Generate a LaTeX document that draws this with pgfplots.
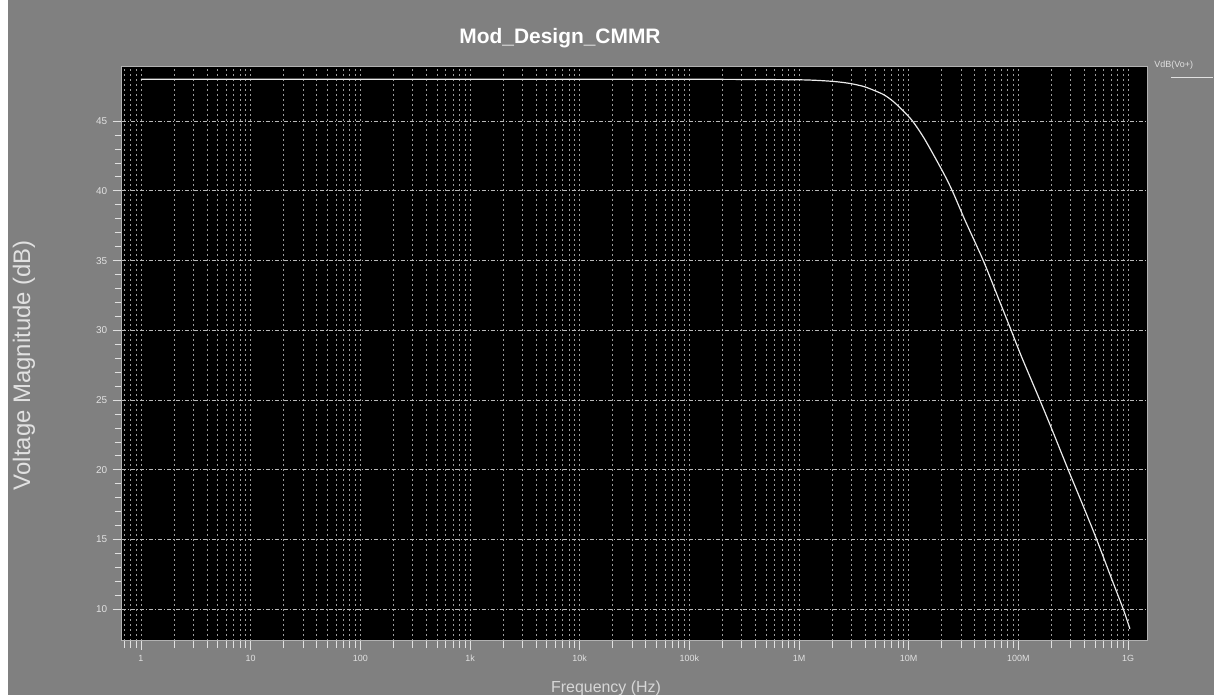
\documentclass[border=0pt]{standalone}
\usepackage{fontspec}
\setmainfont{Liberation Sans}
\usepackage{pgfplots}
\pgfplotsset{compat=1.18}
\definecolor{bg}{RGB}{128,128,128}
\definecolor{txt}{RGB}{225,225,225}
\definecolor{gridc}{RGB}{155,155,155}
\definecolor{gridmaj}{RGB}{185,185,185}

\begin{document}
\begin{tikzpicture}[x=1bp,y=1bp]
\fill[white] (0,0) rectangle (1214,695);
\fill[bg] (7.5,0) rectangle (1214,695);
\begin{axis}[
  at={(121.7bp,54.3bp)}, anchor=south west,
  width=1025.3bp, height=574bp, scale only axis,
  xmode=log, xmin=0.667, xmax=1.49e9, ymin=7.75, ymax=48.9,
  axis background/.style={fill=black},
  axis line style={draw=gray!60!white, line width=0.8bp},
  xtick={1,10,100,1000,1e4,1e5,1e6,1e7,1e8,1e9},
  xticklabels={1,10,100,1k,10k,100k,1M,10M,100M,1G},
  minor xtick={0.7,0.8,0.9,
    2,3,4,5,6,7,8,9,
    20,30,40,50,60,70,80,90,
    200,300,400,500,600,700,800,900,
    2e3,3e3,4e3,5e3,6e3,7e3,8e3,9e3,
    2e4,3e4,4e4,5e4,6e4,7e4,8e4,9e4,
    2e5,3e5,4e5,5e5,6e5,7e5,8e5,9e5,
    2e6,3e6,4e6,5e6,6e6,7e6,8e6,9e6,
    2e7,3e7,4e7,5e7,6e7,7e7,8e7,9e7,
    2e8,3e8,4e8,5e8,6e8,7e8,8e8,9e8},
  ytick={10,15,20,25,30,35,40,45},
  minor y tick num=4,
  tick pos=left, tick align=outside,
  major tick length=9bp, minor tick length=7bp,
  major tick style={draw=txt, line width=0.8bp},
  minor tick style={draw=txt, line width=0.8bp},
  xmajorgrids, xminorgrids, ymajorgrids,
  major x grid style={draw=gridc, line width=0.8bp, dash pattern=on 2bp off 3bp},
  minor x grid style={draw=gridc, line width=0.8bp, dash pattern=on 2bp off 3bp},
  major y grid style={draw=gridmaj, line width=0.9bp, dash pattern=on 4bp off 2bp on 1bp off 2bp},
  /pgf/number format/assume math mode=true,
  xticklabel style={font=\fontsize{9}{10}\selectfont, text=txt, yshift=-2bp},
  yticklabel style={font=\fontsize{10}{11}\selectfont, text=txt, xshift=-2bp},
  title={Mod\_Design\_CMMR},
  every axis title/.style={at={(0.4275,1)}, anchor=base, yshift=23.4bp,
    font=\fontsize{21}{25}\selectfont\bfseries, text=white},
  xlabel={Frequency (Hz)},
  every axis x label/.style={at={(axis description cs:0.4724,-0.0824)}, anchor=center,
    font=\fontsize{16}{19}\selectfont, text=txt!90!gray},
  ylabel={Voltage Magnitude (dB)},
  every axis y label/.style={at={(axis description cs:-0.0953,0.48)}, anchor=center, rotate=90,
    font=\fontsize{24}{28}\selectfont, text=txt},
  legend style={at={(1,1)}, anchor=north west, xshift=4bp, yshift=8bp,
    draw=none, fill=none, inner sep=0pt, text=txt,
    font=\fontsize{9}{10}\selectfont},
  legend image code/.code={\path (0,0); \draw[overlay, txt, line width=1.2bp] (0bp,-13bp) -- (42bp,-13bp);},
]
\addplot[draw=white!92!black, line width=1.2bp, smooth, tension=0.4] table[x=f, y=db] {
f db
1 48.0
10 48.0
100 48.0
1000 48.0
1e4 48.0
1e5 48.0
1e6 47.96
2e6 47.85
2.9e6 47.7
4e6 47.45
5.9e6 46.9
7.5e6 46.3
1.06e7 45.1
1.4e7 43.7
2.07e7 41.3
2.5e7 40.0
3.26e7 37.9
4.79e7 35.0
6.5e7 32.4
8.4e7 30.2
1.07e8 28.1
1.57e8 25.0
2.0e8 23.0
2.85e8 20.0
4.0e8 17.2
5.18e8 15.0
7.0e8 12.3
9.06e8 10.0
1.04e9 8.6
};
\addlegendentry{VdB(Vo+)}
\end{axis}
\pgfresetboundingbox
\path (0,0) rectangle (1214,695);
\end{tikzpicture}
\end{document}
